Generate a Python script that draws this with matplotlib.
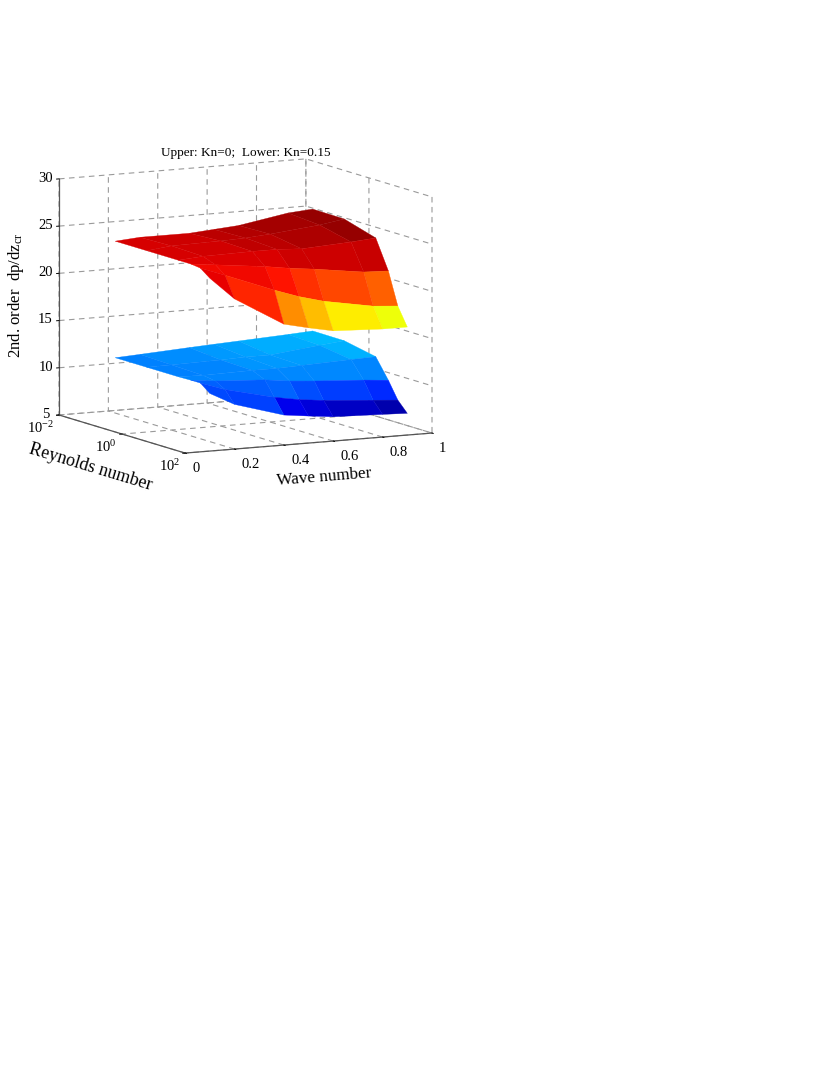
import numpy as np
import matplotlib
matplotlib.use("Agg")
import matplotlib.pyplot as plt
from mpl_toolkits.mplot3d import Axes3D, proj3d

plt.rcParams['font.family'] = ['Liberation Serif', 'DejaVu Serif']
plt.rcParams['mathtext.fontset'] = 'custom'
plt.rcParams['mathtext.rm'] = 'Liberation Serif'
plt.rcParams['mathtext.it'] = 'Liberation Serif:italic'
plt.rcParams['mathtext.default'] = 'regular'

# --- data ---
wave_number = [0.1, 0.2, 0.4, 0.5, 0.6, 0.8, 0.9]
log_reynolds = [-1, 0, 1, 1.4, 1.7, 2]

# rows: Reynolds number, columns: wave number
upper_z = [
    [24.2, 24.4, 24.4, 24.6, 24.8, 25.7, 25.9],
    [24.2, 24.5, 24.6, 24.7, 24.9, 25.44, 25.86],
    [24.2, 24.4, 24.5, 24.5, 24.35, 24.65, 24.86],
    [24.2, 23.9, 23.3, 22.9, 22.6, 21.87, 21.77],
    [24.07, 23.1, 21.1, 20.2, 19.5, 18.56, 18.36],
    [23.3, 20.9, 17.8, 17.2, 16.67, 16.44, 16.44],
]
lower_z = [
    [11.86, 12.0, 12.3, 12.44, 12.57, 12.84, 13.0],
    [11.86, 11.9, 12.0, 12.1, 12.1, 12.7, 12.97],
    [11.86, 11.8, 11.9, 11.9, 12.0, 12.2, 12.29],
    [11.9, 11.6, 11.3, 10.96, 10.75, 10.43, 10.2],
    [11.9, 11.0, 9.75, 9.3, 9.0, 8.6, 8.4],
    [11.1, 9.73, 8.18, 7.86, 7.57, 7.4, 7.3],
]
# colour value of each facet (position on the jet scale)
upper_colour = [
    [.922, .933, .946, .955, .968, .98],
    [.922, .929, .942, .946, .959, .98],
    [.916, .918, .918, .933, .933, .937],
    [.90, .90, .888, .856, .835, .805],
    [.91, .87, .76, .709, .658, .638],
]
lower_colour = [
    [.25, .265, .275, .285, .295, .305],
    [.25, .255, .27, .275, .28, .30],
    [.255, .255, .255, .26, .26, .255],
    [.22, .215, .225, .20, .185, .165],
    [.198, .19, .095, .08, .06, .04],
]
wave_ticks = [0, 0.2, 0.4, 0.6, 0.8, 1]
wave_labels = ['0', '0.2', '0.4', '0.6', '0.8', '1']
re_ticks = [-2, 0, 2]
re_labels = ['$10^{-2}$', '$10^{0}$', '$10^{2}$']
z_ticks = [5, 10, 15, 20, 25, 30]

W = 814
H = 1066
fig = plt.figure(figsize=(W / 100, H / 100), dpi=100, facecolor='white')
ax = fig.add_axes([0.1, 0.5, 0.5, 0.4 * W / H * 1.2], projection='3d', proj_type='ortho',
                  computed_zorder=True)
ax.view_init(elev=9, azim=-117.4)
ax.set_box_aspect((278, 274, 239))
ax.set_xlim(0, 1)
ax.set_ylim(2, -2)
ax.set_zlim(5, 30)
ax.patch.set_alpha(0)

X, Y = np.meshgrid(wave_number, log_reynolds)
cmap = plt.get_cmap('jet')


def facets(values):
    arr = np.array(values)
    pad = np.zeros((arr.shape[0] + 1, arr.shape[1] + 1))
    pad[:-1, :-1] = arr
    return cmap(pad)


for z, c in ((upper_z, upper_colour), (lower_z, lower_colour)):
    surf = ax.plot_surface(X, Y, np.array(z), facecolors=facets(c), rstride=1, cstride=1,
                           shade=False, linewidth=0.25, antialiased=True)

ax.set_xticks(wave_ticks)
ax.set_xticklabels(wave_labels, fontsize=10.5, ha='left', va='center')
ax.set_yticks(re_ticks)
ax.set_yticklabels(re_labels, fontsize=10.5, ha='right')
ax.set_zticks(z_ticks)
ax.set_zticklabels([str(v) for v in z_ticks], fontsize=10.5, va='center')

for axis in (ax.xaxis, ax.yaxis, ax.zaxis):
    axis.set_pane_color((1, 1, 1, 0))
    axis.pane.set_edgecolor((1, 1, 1, 0))
    axis.line.set_color('#555555')
    axis.line.set_linewidth(0.9)
    axis._axinfo['grid'].update(color='#9a9a9a', linewidth=0.8, linestyle=(0, (5, 4)))
    axis._axinfo['tick'].update(inward_factor=0.12, outward_factor=0.0)
    axis._axinfo['tick']['linewidth'] = {True: 0.7, False: 0.5}
    axis._axinfo['tick']['color'] = '#555555'

ax.tick_params(axis='x', pad=1.5, colors='black')
ax.tick_params(axis='y', pad=-4.5, colors='black')
ax.tick_params(axis='z', pad=-2, colors='black')

ax.set_xlabel('Wave number', fontsize=12.3, labelpad=0)
ax.set_ylabel('Reynolds number', fontsize=13, labelpad=0.5)
ax.zaxis.set_rotate_label(False)
ax.set_zlabel('2nd. order  dp/dz$_{cr}$', fontsize=12.1, rotation=90, labelpad=-2)

fig.text(246 / W, 1 - 153 / H, 'Upper: Kn=0;  Lower: Kn=0.15', fontsize=9.5,
         ha='center', va='center')


def pixel(x, y, z):
    a, b, _ = proj3d.proj_transform(x, y, z, ax.get_proj())
    p = ax.transData.transform((a, b))
    return p[0], H - p[1]


# fit the axes box so that the projected plot box lands where the reference has it
target_left = (59.0, 415.0)
target_right = (432.0, 433.0)
for _ in range(4):
    fig.canvas.draw()
    pos = ax.get_position()
    l = pixel(0, -2, 5)
    r = pixel(1, 2, 5)
    scale = (target_right[0] - target_left[0]) / (r[0] - l[0])
    cx, cy = pos.x0 * W, pos.y0 * H
    w, h = pos.width * W, pos.height * H
    rel_x = l[0] - cx
    rel_y = (H - l[1]) - cy
    new_w, new_h = w * scale, h * scale
    new_x = target_left[0] - rel_x * scale
    new_y = (H - target_left[1]) - rel_y * scale
    ax.set_position([new_x / W, new_y / H, new_w / W, new_h / H])

fig.savefig('out.png', dpi=100, facecolor='white')
